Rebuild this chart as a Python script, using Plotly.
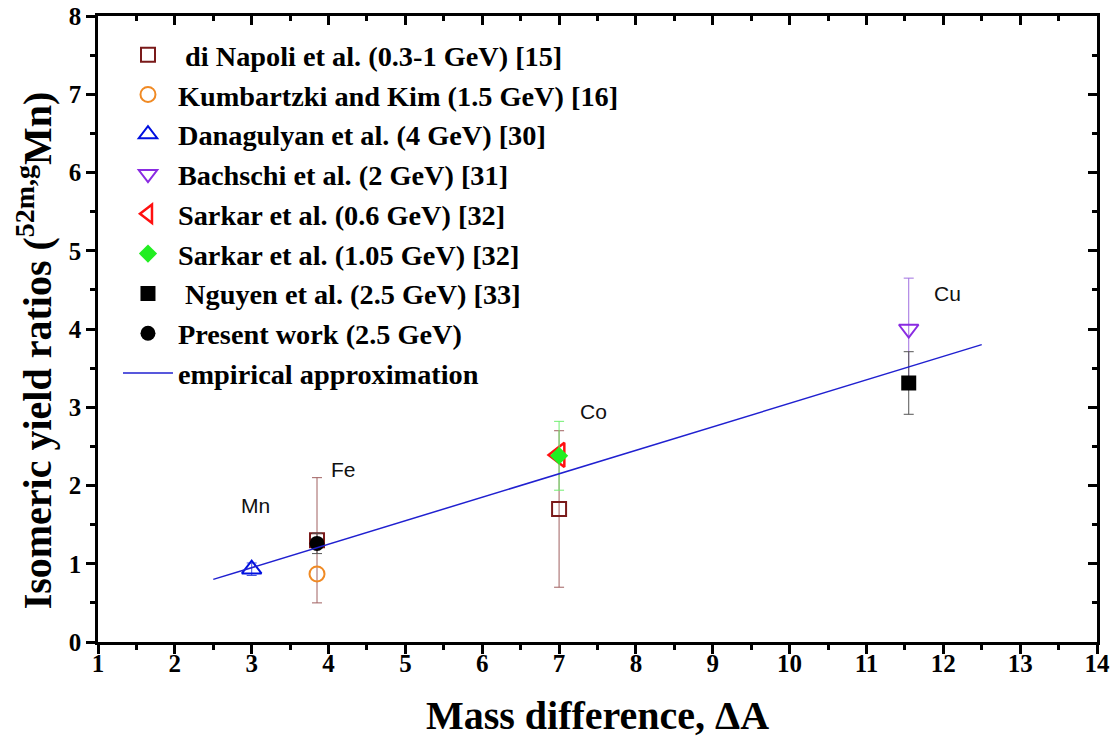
import plotly.graph_objects as go

# ---- data ----
napoli_x = [3.85, 7.0]
napoli_y = [1.3, 1.7]
napoli_err = [0.8, 1.0]

kumb_x = [3.85]
kumb_y = [0.87]

danag_x = [3.0]
danag_y = [0.93]
danag_err = [0.08]

bach_x = [11.55]
bach_y = [4.0]
bach_err = [0.65]

sark06_x = [7.0]
sark06_y = [2.39]

sark105_x = [7.0]
sark105_y = [2.38]
sark105_err = [0.44]

nguyen_x = [11.55]
nguyen_y = [3.31]
nguyen_err = [0.4]

present_x = [3.85]
present_y = [1.26]
present_err = [0.13]

emp_x = [2.5, 12.5]
emp_y = [0.8, 3.8]

labels_txt = ["Mn", "Fe", "Co", "Cu"]
labels_x = [3.05, 4.2, 7.45, 12.05]
labels_y = [1.75, 2.2, 2.95, 4.45]

x_ticks = list(range(1, 15))
y_ticks = list(range(0, 9))

fig = go.Figure()

def err(vals, color):
    return dict(type="data", array=vals, visible=True, color=color, thickness=1, width=5)

fig.add_trace(go.Scatter(x=napoli_x, y=napoli_y, mode="markers", name=" di Napoli et al. (0.3-1 GeV) [15]",
                         legendgroup="a",
                         marker=dict(symbol="square-open", size=14, color="#7a1a1a", line=dict(width=2)),
                         error_y=err(napoli_err, "#a06060")))
fig.add_trace(go.Scatter(x=kumb_x, y=kumb_y, mode="markers", name="Kumbartzki and Kim (1.5 GeV) [16]",
                         legendgroup="b",
                         marker=dict(symbol="circle-open", size=15, color="#f08a24", line=dict(width=2))))
fig.add_trace(go.Scatter(x=danag_x, y=danag_y, mode="markers", name="Danagulyan et al. (4 GeV) [30]",
                         legendgroup="c",
                         marker=dict(symbol="triangle-up-open", size=17, color="#0010e0", line=dict(width=2)),
                         error_y=err(danag_err, "#4050e0")))
fig.add_trace(go.Scatter(x=bach_x, y=bach_y, mode="markers", name="Bachschi et al. (2 GeV) [31]",
                         legendgroup="d",
                         marker=dict(symbol="triangle-down-open", size=17, color="#8a2be2", line=dict(width=2)),
                         error_y=err(bach_err, "#a070e0")))
fig.add_trace(go.Scatter(x=sark06_x, y=sark06_y, mode="markers", name="Sarkar et al. (0.6 GeV) [32]",
                         legendgroup="e",
                         marker=dict(symbol="triangle-left-open", size=21, color="#ff1010", line=dict(width=2.5))))
fig.add_trace(go.Scatter(x=sark105_x, y=sark105_y, mode="markers", name="Sarkar et al. (1.05 GeV) [32]",
                         legendgroup="f",
                         marker=dict(symbol="diamond", size=14, color="#22ee22"),
                         error_y=err(sark105_err, "#70ee70")))
fig.add_trace(go.Scatter(x=nguyen_x, y=nguyen_y, mode="markers", name=" Nguyen et al. (2.5 GeV) [33]",
                         legendgroup="g",
                         marker=dict(symbol="square", size=15, color="#000000"),
                         error_y=err(nguyen_err, "#555555")))
fig.add_trace(go.Scatter(x=present_x, y=present_y, mode="markers", name="Present work (2.5 GeV)",
                         legendgroup="h",
                         marker=dict(symbol="circle", size=15, color="#000000"),
                         error_y=err(present_err, "#555555")))
fig.add_trace(go.Scatter(x=emp_x, y=emp_y, mode="lines", name="empirical approximation",
                         legendgroup="i",
                         line=dict(color="#2020d0", width=1.5)))

# dummy trace for mirrored axes with inside ticks
fig.add_trace(go.Scatter(x=[None], y=[None], xaxis="x2", yaxis="y2", showlegend=False, hoverinfo="skip"))

for t, xx, yy in zip(labels_txt, labels_x, labels_y):
    fig.add_annotation(x=xx, y=yy, text=t, showarrow=False,
                       font=dict(family="Liberation Sans, Arial", size=21, color="#111111"))

SERIF = "Liberation Serif, Times New Roman, serif"

# y-axis title as rotated annotation (positioned like the reference)
fig.add_annotation(x=-0.064, y=0.466, xref="paper", yref="paper", xanchor="center", yanchor="middle",
                   textangle=-90, showarrow=False,
                   text="Isomeric yield ratios (<sup>52m,g</sup>Mn)",
                   font=dict(size=40, family=SERIF, weight="bold", color="#000000"))

tickfont = dict(family=SERIF, size=25, color="#000000", weight="bold")
minor_out = dict(ticks="outside", ticklen=5, tickwidth=2.5, tickcolor="#000000", dtick=0.5, showgrid=False)
minor_in = dict(ticks="inside", ticklen=5, tickwidth=2.5, tickcolor="#000000", dtick=0.5, showgrid=False)
line_common = dict(showgrid=False, zeroline=False, showline=True, linecolor="#000000", linewidth=2.5,
                   tickcolor="#000000", tickwidth=2.5, automargin=False)

fig.update_layout(
    width=1118, height=744,
    margin=dict(l=98, r=21, t=16, b=102),
    paper_bgcolor="white", plot_bgcolor="white",
    font=dict(family=SERIF, color="#000000"),
    xaxis=dict(range=[1, 14], tickvals=x_ticks, ticks="outside", ticklen=9, tickfont=tickfont,
               ticklabelstandoff=-12, ticklabeloverflow="allow",
               title=dict(text="Mass difference, ΔA", font=dict(size=40, family=SERIF, weight="bold"), standoff=26),
               minor=minor_out, **line_common),
    yaxis=dict(range=[0, 8], tickvals=y_ticks, ticks="outside", ticklen=9, tickfont=tickfont,
               ticklabeloverflow="allow",
               minor=minor_out, **line_common),
    xaxis2=dict(range=[1, 14], overlaying="x", side="top", tickvals=x_ticks, ticks="inside", ticklen=9,
                showticklabels=False, minor=minor_in, **line_common),
    yaxis2=dict(range=[0, 8], overlaying="y", side="right", tickvals=y_ticks, ticks="inside", ticklen=9,
                showticklabels=False, minor=minor_in, **line_common),
    legend=dict(x=0.02, y=0.978, xanchor="left", yanchor="top", bgcolor="rgba(0,0,0,0)",
                font=dict(family=SERIF, size=28.3, color="#000000", weight="bold"),
                tracegroupgap=0, itemwidth=50),
    showlegend=True,
)

fig.write_html("out.html", post_script="document.body.style.margin='0px';",
               config={"displayModeBar": False})
